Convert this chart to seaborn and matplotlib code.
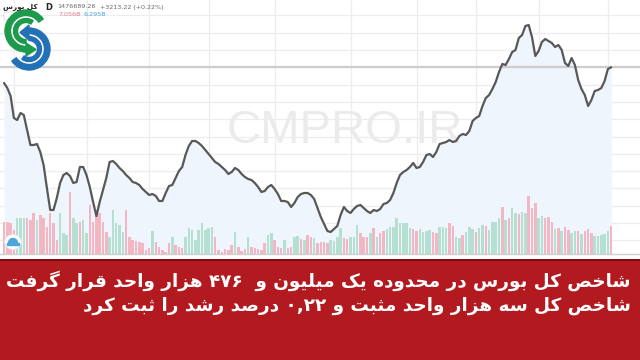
import re
import unicodedata
import numpy as np
import pandas as pd
import matplotlib
matplotlib.use("Agg")
import matplotlib.pyplot as plt
import seaborn as sns
from matplotlib.patches import Rectangle, Wedge, Polygon, Ellipse, FancyBboxPatch

# ---------------- data (daily index, thousands of points) ----------------
close = [1461, 1456, 1448, 1426, 1424, 1431, 1429, 1414, 1399, 1399,
         1400, 1392, 1379, 1356, 1334, 1334, 1346, 1361, 1369, 1371,
         1368, 1361, 1362, 1377, 1377, 1369, 1357, 1342, 1328, 1342,
         1354, 1366, 1382, 1383, 1380, 1376, 1373, 1369, 1366, 1362,
         1361, 1359, 1355, 1352, 1349, 1350, 1348, 1343, 1343, 1351,
         1358, 1359, 1366, 1373, 1377, 1389, 1398, 1403, 1403, 1401,
         1398, 1394, 1390, 1386, 1382, 1380, 1377, 1374, 1370, 1372,
         1376, 1374, 1370, 1367, 1365, 1364, 1361, 1357, 1352, 1353,
         1357, 1359, 1355, 1350, 1343, 1343, 1342, 1337, 1341, 1347,
         1350, 1351, 1351, 1349, 1345, 1336, 1327, 1320, 1313, 1312,
         1315, 1318, 1329, 1337, 1333, 1331, 1335, 1338, 1339, 1336,
         1333, 1331, 1334, 1333, 1335, 1340, 1341, 1344, 1351, 1361,
         1369, 1372, 1374, 1377, 1381, 1376, 1377, 1382, 1389, 1390,
         1387, 1392, 1400, 1401, 1402, 1404, 1402, 1403, 1408, 1410,
         1409, 1413, 1423, 1426, 1428, 1438, 1446, 1449, 1455, 1462,
         1472, 1480, 1479, 1485, 1492, 1494, 1506, 1509, 1518, 1519,
         1507, 1488, 1493, 1502, 1505, 1503, 1501, 1497, 1499, 1494,
         1481, 1478, 1486, 1479, 1464, 1455, 1449, 1438, 1444, 1453,
         1454, 1456, 1463, 1475, 1476.69]

# volume in billions of shares
volume = [8, 8, 7.75, 6, 9, 9, 9, 9, 8.5, 10.25,
          8.5, 9.75, 9, 6.75, 10.25, 7.75, 3.5, 10.25, 5.25, 4.75,
          15.5, 9, 7.75, 8, 8.5, 5.25, 12.25, 8, 11, 10.25,
          8, 5.5, 4.25, 11, 7.75, 7.25, 5.5, 11, 4.25, 3.5,
          3.25, 3, 2.75, 1, 1.5, 5.75, 3, 1.75, 1, 0.5,
          2.75, 4.25, 2.25, 1.75, 1.5, 4.25, 6.5, 6, 3.5, 6,
          7.75, 6, 6.5, 6.75, 4.25, 1, 0.5, 1.25, 1, 2.25,
          5.5, 1.75, 0.75, 1.25, 4.25, 1.75, 1.5, 1.25, 1, 2.75,
          4.75, 5.25, 3.5, 1.75, 1.5, 3.5, 1.5, 1.75, 4.25, 4.5,
          3.75, 3.5, 4.75, 4.25, 4, 2.75, 3, 3, 2.75, 3.5,
          3.25, 4.25, 6.5, 4, 3.75, 4.25, 4.25, 7.25, 5.25, 4.25,
          4.25, 5.25, 6.5, 4.25, 5.25, 5.75, 6.25, 6.75, 6.75, 9,
          7.75, 7.75, 7.75, 6.5, 6.25, 5.75, 6.25, 5.5, 5.75, 6,
          5.5, 5.25, 6.75, 6.75, 6.5, 7.75, 7, 4.25, 4, 4.75,
          5.5, 6.75, 6.25, 5.5, 6.5, 7.25, 7, 6, 8, 8,
          9, 11.75, 8.5, 9, 11.5, 10.25, 10, 10.5, 10.25, 14.5,
          11.5, 12.75, 9, 9.5, 9, 9.25, 8, 6.25, 6.5, 5.75,
          6.75, 6, 5.25, 5.75, 5.75, 5, 5.75, 6.25, 5.25, 4.5,
          4.5, 4.75, 5, 5.75, 7.056]

# candle direction of each day: g = up (green), r = down (red)
vol_dir = ("rrrrgggrrr" "grrrrrrggg" "rggrggrrrr" "rrgggggrrr" "rrrrrgrrrr"
           "rgrrrggggg" "ggggrrrrrr" "grrrgrrrrr" "ggrrrgrrgg" "rgrrgrrrrg"
           "gggrrgggrr" "rgrgrrgggg" "ggggrrgggg" "rrgggrrggr" "gggrggrggg"
           "grgrggrggr" "rrggrrrgrg" "rrggrgrrrg" "ggggr")

month_starts = [3, 25, 44, 62, 82, 105, 125, 143, 162, 183]
last_price = 1476.69

title_line1 = "شاخص کل بورس در محدوده یک میلیون و  ۴۷۶ هزار واحد قرار گرفت"
title_line2 = "شاخص کل سه هزار واحد مثبت و ۰,۲۲ درصد رشد را ثبت کرد"
symbol_name = "کل بورس"
header_vals = ["1476689.26", "+3213.22 (+0.22%)"]
vol_labels = ["7.056B", "6.295B"]
watermark = "CMPRO.IR"


# ---------------- simple Arabic/Persian shaping for matplotlib ----------------
def _forms():
    f = {}
    for cp in list(range(0xFB50, 0xFDFF)) + list(range(0xFE70, 0xFEFF)):
        d = unicodedata.decomposition(chr(cp)).split()
        if len(d) == 2 and d[0] in ("<isolated>", "<final>", "<initial>", "<medial>"):
            f.setdefault(chr(int(d[1], 16)), {})[d[0][1:-1]] = chr(cp)
    return f


FORMS = _forms()


def rtl(text):
    def jn(c):
        return c in FORMS and "initial" in FORMS[c]

    def jp(c):
        return c in FORMS and "final" in FORMS[c]

    out = []
    for i, c in enumerate(text):
        if c not in FORMS:
            out.append(c)
            continue
        p = text[i - 1] if i > 0 else ""
        n = text[i + 1] if i + 1 < len(text) else ""
        a = jn(p) and jp(c)
        b = jn(c) and jp(n)
        key = "medial" if a and b else "final" if a else "initial" if b else "isolated"
        out.append(FORMS[c].get(key, FORMS[c].get("isolated", c)))
    s = "".join(out)[::-1]
    return re.sub(r"[0-9\u06F0-\u06F9][0-9\u06F0-\u06F9,\u066B.]*",
                  lambda m: m.group(0)[::-1], s)


# ---------------- figure ----------------
sns.set_theme(style="white")
plt.rcParams["font.family"] = ["DejaVu Sans"]

W, H = 640, 360
fig = plt.figure(figsize=(6.4, 3.6), dpi=100)
fig.patch.set_facecolor("white")


def px_axes(x0, y0, x1, y1):
    return fig.add_axes([x0 / W, 1 - y1 / H, (x1 - x0) / W, (y1 - y0) / H])


days = np.arange(len(close))
df = pd.DataFrame({"day": days, "close": close, "volume": volume,
                   "dir": ["up" if c == "g" else "down" for c in vol_dir]})

X0 = -4 / 3.3
X1 = 636 / 3.3

ax_p = px_axes(0, 0, 640, 254)
ax_p.set_xlim(X0, X1)
ax_p.set_ylim(1290, 1544)
ax_p.set_facecolor("white")
grid_c = "#ededed"
for m in month_starts:
    ax_p.axvline(m, color=grid_c, lw=0.9, zorder=0)
for k in range(-5, 12):
    ax_p.axhline(last_price - 17.3 * k, color=grid_c, lw=0.9, zorder=0)
ax_p.fill_between(df["day"], df["close"], 1290, color="#eff5fc", lw=0, zorder=1)
ax_p.axhline(last_price, color="#cdcdcd", lw=1.6, zorder=2)
ax_p.text(345 / W, 1 - 131 / H, watermark, transform=fig.transFigure,
          fontsize=34, color="#ebebeb", ha="center", va="center",
          family=["Liberation Sans", "DejaVu Sans"], zorder=3)

ax_v = ax_p.twinx()
sns.barplot(data=df, x="day", y="volume", hue="dir", native_scale=True,
            dodge=False, width=0.78, palette={"up": "#b5e0d1", "down": "#f3b7c4"},
            saturation=1, errorbar=None, legend=False, linewidth=0, ax=ax_v)
ax_v.set_ylim(0, 254 / 4)

ax_l = ax_p.twinx()
sns.lineplot(data=df, x="day", y="close", color="#585858", lw=1.6, ax=ax_l)
ax_l.set_ylim(1290, 1544)

for a in (ax_p, ax_v, ax_l):
    a.set_xlim(X0, X1)
    a.set_xlabel("")
    a.set_ylabel("")
    a.set_yticks([])
    for s in ("top", "left", "right"):
        a.spines[s].set_visible(False)
for a in (ax_v, ax_l):
    a.patch.set_visible(False)
    a.spines["bottom"].set_visible(False)
    a.set_xticks([])
ax_p.set_xticks(month_starts)
ax_p.set_xticklabels([])
ax_p.tick_params(axis="x", length=4, width=0.8, color="#bdbdbd", direction="out")
ax_p.spines["bottom"].set_color("#cfcfcf")
ax_p.spines["bottom"].set_linewidth(1.0)

# ---------------- overlay: logo, header, banner ----------------
ov = fig.add_axes([0, 0, 1, 1])
ov.set_xlim(0, W)
ov.set_ylim(0, H)
ov.axis("off")


def Y(y):
    return H - y


ov.add_patch(FancyBboxPatch((4, Y(20)), 13, 8, boxstyle="round,pad=0,rounding_size=1.5",
                            facecolor="white", edgecolor="#d5d5d5", lw=0.6, zorder=1))

# logo
green, blue = "#1d9a4b", "#2270b6"
ov.add_patch(Wedge((26, Y(31)), 21, 35, 272, width=5.5, color=green, zorder=2))
ov.add_patch(Wedge((26, Y(31)), 12.5, 55, 270, width=4, color=green, zorder=2))
ov.add_patch(Polygon([(26, Y(43)), (26, Y(56)), (36, Y(49.5))], color=green, zorder=2))
ov.add_patch(Wedge((29, Y(49)), 21, -145, 92, width=5.5, color=blue, zorder=2))
ov.add_patch(Wedge((29, Y(49)), 12.5, -125, 90, width=4, color=blue, zorder=2))
ov.add_patch(Polygon([(29, Y(25)), (29, Y(40)), (20, Y(32.5))], color=blue, zorder=2))

# header texts (above the logo)
ov.text(38, Y(7), rtl(symbol_name), fontsize=5.2, fontweight="bold", color="#222222",
        ha="right", va="center", zorder=3)
ov.text(45, Y(7), "D", fontsize=6, fontweight="bold", color="#222222", ha="left",
        va="center", zorder=3)
ov.text(57, Y(7), header_vals[0], fontsize=4.6, color="#666666", ha="left", va="center", zorder=3)
ov.text(100, Y(7), header_vals[1], fontsize=4.6, color="#666666", ha="left", va="center", zorder=3)
ov.text(58, Y(15), vol_labels[0], fontsize=4.6, color="#e0788c", ha="left", va="center", zorder=3)
ov.text(84, Y(15), vol_labels[1], fontsize=4.6, color="#4aa6dc", ha="left", va="center", zorder=3)

# cloud icon
ov.add_patch(Ellipse((13, Y(242)), 17, 15, facecolor="white", edgecolor="#e3e3e3", lw=0.6))
ov.add_patch(Wedge((13, Y(243)), 4.5, 0, 180, color="#4aa6dc"))
ov.add_patch(Rectangle((7, Y(245)), 12, 2.2, color="#4aa6dc"))

# red banner
ov.add_patch(Rectangle((0, 0), W, Y(259.5), color="#b31a1f", zorder=1))
ov.plot([0, W], [Y(259.5), Y(259.5)], color="#7a0d10", lw=1.4, zorder=2)
ov.text(631, Y(281), rtl(title_line1), fontsize=13.2, fontweight="bold", color="white",
        ha="right", va="center", zorder=3)
ov.text(631, Y(306), rtl(title_line2), fontsize=13.2, fontweight="bold", color="white",
        ha="right", va="center", zorder=3)

fig.savefig("out.png", dpi=100)
